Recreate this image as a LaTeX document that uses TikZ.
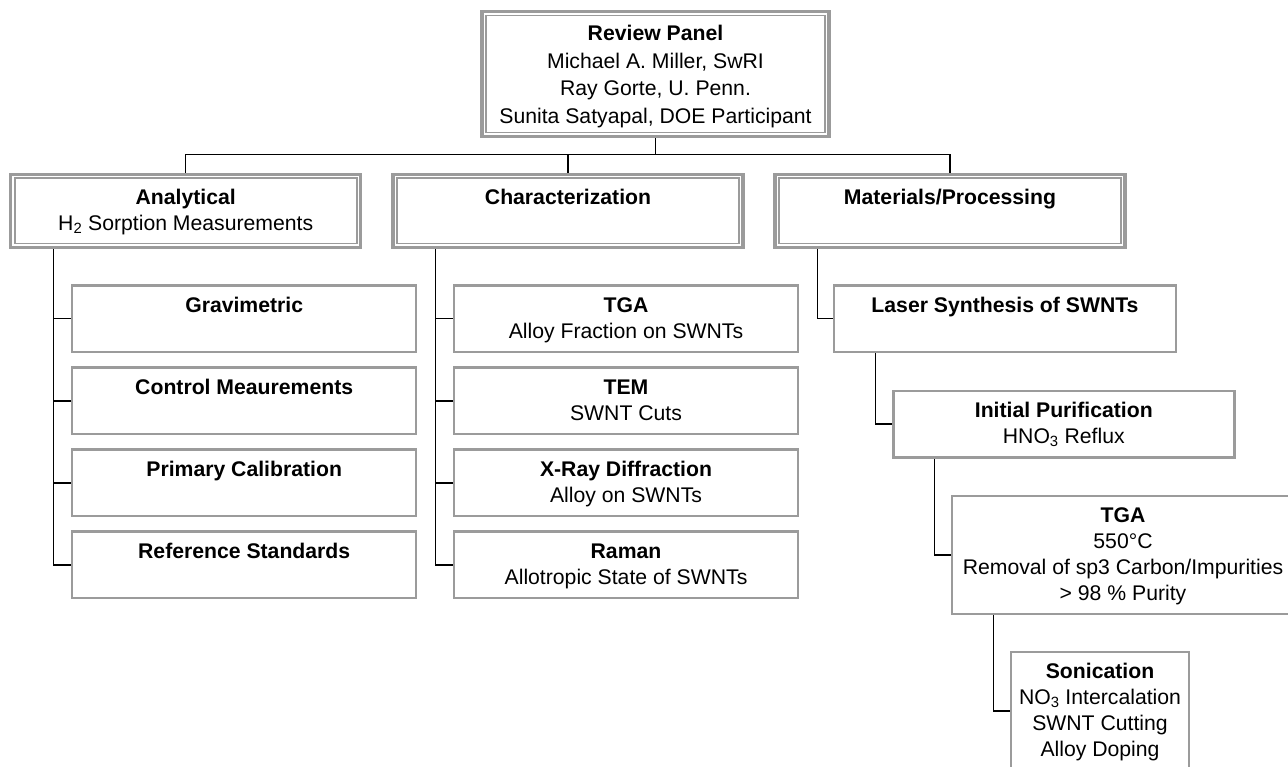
\documentclass[tikz,border=0pt]{standalone}
\usepackage{fontspec}
\setmainfont{Liberation Sans}
\usetikzlibrary{backgrounds}
\definecolor{bordergray}{RGB}{155,155,155}
\newcommand{\boxtext}[1]{\begin{tabular}[t]{@{}c@{}}#1\end{tabular}}
\begin{document}
\begin{tikzpicture}[x=1pt,y=-1pt,
  box/.style={rectangle, draw=bordergray, line width=2.4pt, fill=white,
              anchor=north west, inner sep=0pt, outer sep=0pt},
  dblbox/.style={box, line width=3.3pt},
  innerline/.style={draw=bordergray, line width=1.6pt},
  link/.style={draw=black, line width=1.3pt},
  txt/.style={anchor=base, inner sep=0pt, font=\fontsize{21.2}{25.7}\selectfont},
  paneltxt/.style={txt, font=\fontsize{21.2}{27.5}\selectfont}]
\useasboundingbox (0,0) rectangle (1288,767);
\clip (0,0) rectangle (1288,767);

% ---- top level ----
\node[dblbox, minimum width=347pt, minimum height=124.8pt] (panel) at (482,11.7) {};
% ---- second level ----
\node[dblbox, minimum width=350pt, minimum height=73.4pt] (ana) at (10.7,174.3) {};
\node[dblbox, minimum width=350pt, minimum height=73.4pt] (cha) at (393,174.3) {};
\node[dblbox, minimum width=350pt, minimum height=73.4pt] (mat) at (775,174.3) {};
\foreach \n in {panel,ana,cha,mat}
  \draw[innerline] ([shift={(4,4)}]\n.north west) rectangle ([shift={(-4,-4)}]\n.south east);

% ---- analytical branch ----
\node[box, minimum width=344pt, minimum height=66.7pt] (grav)  at (72.2,285.5) {};
\node[box, minimum width=344pt, minimum height=66.7pt] (ctrl)  at (72.2,367.5) {};
\node[box, minimum width=344pt, minimum height=66.7pt] (prim)  at (72.2,449.5) {};
\node[box, minimum width=344pt, minimum height=66.7pt] (refs)  at (72.2,531.5) {};
% ---- characterization branch ----
\node[box, minimum width=344pt, minimum height=66.7pt] (tgaa)  at (454,285.5) {};
\node[box, minimum width=344pt, minimum height=66.7pt] (tem)   at (454,367.5) {};
\node[box, minimum width=344pt, minimum height=66.7pt] (xrd)   at (454,449.5) {};
\node[box, minimum width=344pt, minimum height=66.7pt] (raman) at (454,531.5) {};
% ---- materials / processing chain ----
\node[box, minimum width=342pt, minimum height=66.7pt]  (laser) at (834,285.5) {};
\node[box, minimum width=341pt, minimum height=66.6pt]  (init)  at (893.3,390.7) {};
\node[box, minimum width=342pt, minimum height=118.3pt] (tgab)  at (952,495.7) {};
\node[box, minimum width=178pt, minimum height=118.3pt] (soni)  at (1011,651.7) {};

% ---- texts ----
\node[paneltxt] (panelT) at ([shift={(0,29.3)}]panel.north) {\boxtext{\textbf{Review Panel}\\Michael A. Miller, SwRI\\Ray Gorte, U. Penn.\\Sunita Satyapal, DOE Participant}};
\node[txt] (anaT) at ([shift={(0,30.7)}]ana.north) {\boxtext{\textbf{Analytical}\\H\textsubscript{2} Sorption Measurements}};
\node[txt] (chaT) at ([shift={(0,30.7)}]cha.north) {\boxtext{\textbf{Characterization}}};
\node[txt] (matT) at ([shift={(0,30.7)}]mat.north) {\boxtext{\textbf{Materials/Processing}}};

\node[txt] (gravT) at ([shift={(0,27.2)}]grav.north) {\boxtext{\textbf{Gravimetric}}};
\node[txt] (ctrlT) at ([shift={(0,27.2)}]ctrl.north) {\boxtext{\textbf{Control Meaurements}}};
\node[txt] (primT) at ([shift={(0,27.2)}]prim.north) {\boxtext{\textbf{Primary Calibration}}};
\node[txt] (refsT) at ([shift={(0,27.2)}]refs.north) {\boxtext{\textbf{Reference Standards}}};

\node[txt] (tgaaT)  at ([shift={(0,27.2)}]tgaa.north)  {\boxtext{\textbf{TGA}\\Alloy Fraction on SWNTs}};
\node[txt] (temT)   at ([shift={(0,27.2)}]tem.north)   {\boxtext{\textbf{TEM}\\SWNT Cuts}};
\node[txt] (xrdT)   at ([shift={(0,27.2)}]xrd.north)   {\boxtext{\textbf{X-Ray Diffraction}\\Alloy on SWNTs}};
\node[txt] (ramanT) at ([shift={(0,27.2)}]raman.north) {\boxtext{\textbf{Raman}\\Allotropic State of SWNTs}};

\node[txt] (laserT) at ([shift={(0,27.2)}]laser.north) {\boxtext{\textbf{Laser Synthesis of SWNTs}}};
\node[txt] (initT)  at ([shift={(0,27.2)}]init.north)  {\boxtext{\textbf{Initial Purification}\\HNO\textsubscript{3} Reflux}};
\node[txt] (tgabT)  at ([shift={(0,27.2)}]tgab.north)  {\boxtext{\textbf{TGA}\\550°C\\Removal of sp3 Carbon/Impurities\\> 98 \% Purity}};
\node[txt] (soniT)  at ([shift={(0,27.2)}]soni.north)  {\boxtext{\textbf{Sonication}\\NO\textsubscript{3} Intercalation\\SWNT Cutting\\Alloy Doping}};

% ---- connectors ----
\coordinate (bus)     at (0,154.5);
\coordinate (anaSp)   at (53.5,0);
\coordinate (chaSp)   at (435.5,0);
\coordinate (matSp)   at (817.5,0);
\coordinate (laserSp) at (875.7,0);
\coordinate (initSp)  at (934.3,0);
\coordinate (tgabSp)  at (993.3,0);
\begin{pgfonlayer}{background}
  \draw[link] (panel.south) -- (panel.south |- bus);
  \draw[link] (ana.north) -- (ana.north |- bus) -- (mat.north |- bus) -- (mat.north);
  \draw[link] (cha.north) -- (cha.north |- bus);
  % analytical spine
  \draw[link] (ana.south -| anaSp) |- (refs.west);
  \foreach \n in {grav,ctrl,prim} \draw[link] (\n.west -| anaSp) -- (\n.west);
  % characterization spine
  \draw[link] (cha.south -| chaSp) |- (raman.west);
  \foreach \n in {tgaa,tem,xrd} \draw[link] (\n.west -| chaSp) -- (\n.west);
  % processing chain
  \draw[link] (mat.south -| matSp) |- (laser.west);
  \draw[link] (laser.south -| laserSp) |- (init.west);
  \draw[link] (init.south -| initSp) |- (tgab.west);
  \draw[link] (tgab.south -| tgabSp) |- (soni.west);
\end{pgfonlayer}
\end{tikzpicture}
\end{document}
